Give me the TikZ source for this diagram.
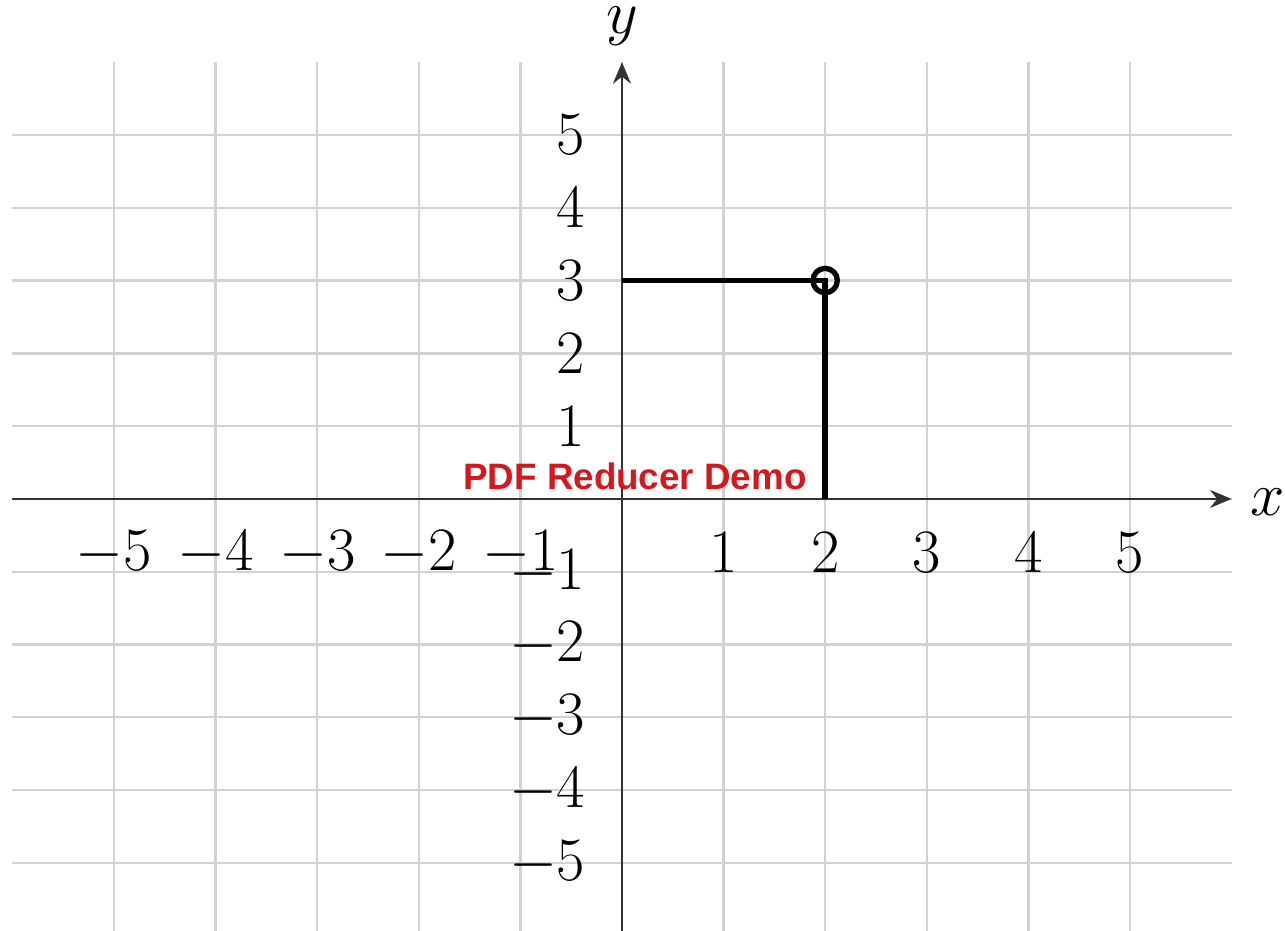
\documentclass[tikz,border=0pt]{standalone}
\usepackage{fontspec}
\newfontfamily\wmfont{Liberation Sans}
\usetikzlibrary{arrows.meta}
\definecolor{wmred}{RGB}{214,24,30}
\definecolor{gridgray}{RGB}{210,210,210}
\begin{document}
\begin{tikzpicture}[x=1cm,y=0.7165cm,
  gridline/.style={draw=gridgray, line width=0.65pt},
  axisline/.style={draw=black!80, line width=0.8pt, -{Stealth[length=6pt,width=5pt]}},
  ticklabel/.style={font=\fontsize{16}{18}\selectfont, inner sep=0pt},
  axislabel/.style={font=\fontsize{16}{18}\selectfont, inner sep=0pt},
  pathline/.style={line width=1.5pt, black},
  wmtext/.style={font=\wmfont\bfseries\fontsize{10.3}{12}\selectfont, text=wmred, inner sep=0pt}
  ]
\useasboundingbox (-6.122,-5.934) rectangle (6.526,6.854);
% grid
\foreach \i in {-5,...,5} {
  \draw[gridline] (\i,-5.95) -- (\i,6);
}
\foreach \j in {-5,...,5} {
  \draw[gridline] (-6,\j) -- (6,\j);
}
% axes
\coordinate (xs) at (-6,0);
\coordinate (xe) at (6,0);
\coordinate (ys) at (0,-5.95);
\coordinate (ye) at (0,6);
\draw[axisline] (xs) -- (xe);
\draw[axisline] (ys) -- (ye);
\node[axislabel] (xlab) at (6.36,-0.04) {$x$};
\node[axislabel] (ylab) at (0,6.5) {$y$};
% tick labels
\foreach \i in {-5,-4,-3,-2,-1,1,2,3,4,5} {
  \node[ticklabel] (xt\i) at (\i,-0.742) {$\i$};
  \node[ticklabel, anchor=east] (yt\i) at (-0.354,\i) {$\i$};
}
% point and projections
\coordinate (P) at (2,3);
\coordinate (Py) at (0,3);
\coordinate (Px) at (2,0);
\draw[pathline] (Py) -- (P) -- (Px);
\draw[pathline] (P) circle[radius=0.12cm];
% watermark
\node[wmtext] (wm) at (0.128,0.315) {PDF Reducer Demo};
\end{tikzpicture}
\end{document}
